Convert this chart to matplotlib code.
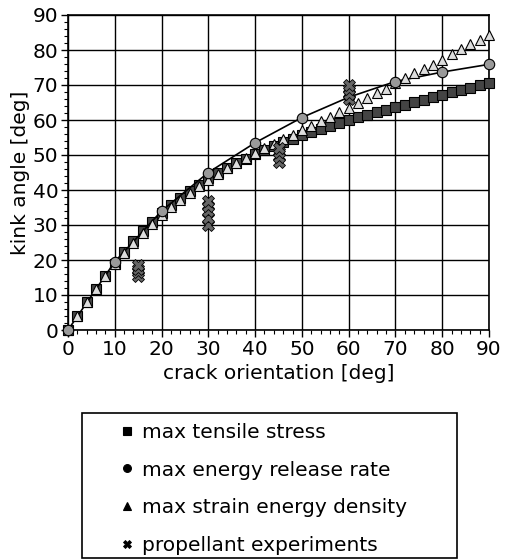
import matplotlib
matplotlib.use("Agg")
import matplotlib.pyplot as plt
from matplotlib.patches import Rectangle
from matplotlib.ticker import MultipleLocator

# crack orientation [deg] for the dense criteria (every 2 deg)
orient_2 = list(range(0, 91, 2))

mts_kink = [0, 4.0, 7.9, 11.8, 15.4, 18.9, 22.2, 25.3, 28.2, 30.8,
            33.3, 35.6, 37.7, 39.7, 41.5, 43.3, 44.8, 46.2, 47.6, 49.0,
            50.3, 51.4, 52.5, 53.6, 54.6, 55.6, 56.6, 57.5, 58.3, 59.2,
            60.0, 60.8, 61.5, 62.3, 63.0, 63.7, 64.4, 65.1, 65.8, 66.5,
            67.2, 67.9, 68.6, 69.2, 69.9, 70.5]

sed_kink = [0, 4.0, 7.9, 11.7, 15.3, 18.8, 22.0, 25.0, 27.8, 30.4,
            32.8, 35.1, 37.2, 39.2, 41.1, 42.9, 44.6, 46.2, 47.7, 49.1,
            50.5, 51.9, 53.2, 54.5, 55.8, 57.1, 58.4, 59.7, 61.0, 62.2,
            63.5, 64.8, 66.2, 67.6, 69.0, 70.6, 72.1, 73.4, 74.6, 75.8,
            77.1, 78.8, 80.2, 81.6, 83.0, 84.2]

# max energy release rate (every 10 deg)
orient_10 = [0, 10, 20, 30, 40, 50, 60, 70, 80, 90]
merr_kink = [0, 19.5, 34.0, 45.0, 53.5, 60.7, 66.5, 71.0, 73.7, 75.9]

# propellant experiments
exp_orient = [15, 15, 15, 15, 30, 30, 30, 30, 30, 45, 45, 45, 45,
              60, 60, 60, 60]
exp_kink = [15.5, 16.5, 17.5, 18.5, 30, 32, 34, 35.5, 37, 48, 49.5, 51, 52,
            66, 67.5, 69, 70]

labels = ["max tensile stress", "max energy release rate",
          "max strain energy density", "propellant experiments"]

plt.rcParams["font.family"] = "DejaVu Sans"
plt.rcParams["font.size"] = 14.5

fig = plt.figure(figsize=(5.06, 5.6), dpi=100)
ax = fig.add_axes([68 / 506, 1 - 330 / 560, 421 / 506, 315 / 560])

ax.plot(orient_2, mts_kink, linestyle="none", marker="s", markersize=7.5,
        markerfacecolor="#444444", markeredgecolor="black", markeredgewidth=0.8,
        label=labels[0], zorder=3, clip_on=False)
ax.plot(orient_10, merr_kink, color="black", linewidth=1.2, zorder=3)
ax.plot(orient_10, merr_kink, linestyle="none", marker="o", markersize=7.5,
        markerfacecolor="#999999", markeredgecolor="black", markeredgewidth=0.8,
        label=labels[1], zorder=4, clip_on=False)
ax.plot(orient_2, sed_kink, linestyle="none", marker="^", markersize=7.5,
        markerfacecolor="#dddddd", markeredgecolor="black", markeredgewidth=0.8,
        label=labels[2], zorder=3, clip_on=False)
ax.plot(exp_orient, exp_kink, linestyle="none", marker="X", markersize=8,
        markerfacecolor="#666666", markeredgecolor="black", markeredgewidth=0.6,
        label=labels[3], zorder=5)

ax.set_xlim(0, 90)
ax.set_ylim(0, 90)
ax.xaxis.set_major_locator(MultipleLocator(10))
ax.yaxis.set_major_locator(MultipleLocator(10))
ax.xaxis.set_minor_locator(MultipleLocator(2))
ax.yaxis.set_minor_locator(MultipleLocator(2))
ax.tick_params(which="major", length=5, width=1, direction="out", pad=2)
ax.tick_params(which="minor", length=3, width=0.8, direction="out")
ax.grid(True, which="major", color="black", linewidth=1)
ax.set_axisbelow(True)
for s in ax.spines.values():
    s.set_linewidth(1.2)

ax.set_xlabel("crack orientation [deg]", labelpad=4)
ax.set_ylabel("kink angle [deg]", labelpad=2)

# legend box drawn below the plot
fig.patches.append(Rectangle((82 / 506, 1 - 558 / 560), 375 / 506, 145 / 560,
                             transform=fig.transFigure, fill=False,
                             edgecolor="black", linewidth=1.2))
handles, lbls = ax.get_legend_handles_labels()
leg = ax.legend(handles, lbls, loc="upper left",
                bbox_to_anchor=(119 / 506, 1 - 423 / 560),
                bbox_transform=fig.transFigure, frameon=False,
                borderpad=0, borderaxespad=0, handlelength=0.8,
                handletextpad=0.35, labelspacing=0.92, markerscale=0.75)
for h in leg.legend_handles:
    h.set_markerfacecolor("black")

fig.savefig("out.png", dpi=100)
